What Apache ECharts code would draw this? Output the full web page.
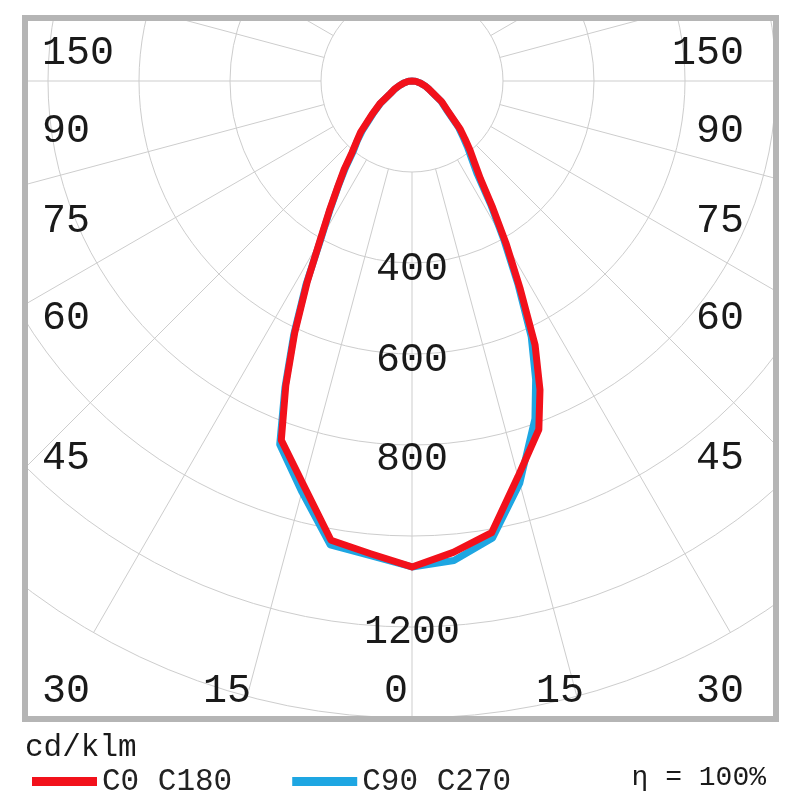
<!DOCTYPE html>
<html><head><meta charset="utf-8">
<script src="https://cdn.jsdelivr.net/npm/echarts@6/dist/echarts.min.js"></script>
<style>html,body{margin:0;padding:0;background:#fff}#c{width:800px;height:800px}</style>
</head><body><div id="c"></div>
<script>
// ---- data (cd/klm) ----
const gammaAngles = [0,5,10,15,20,22.5,25,27.5,30,32.5,35,37.5,40,42.5,45,50,55,60,65,70,75,80,85,90];
// C0-C180 plane (red): right half and left half
const c0Right   = [1068,1040,1008,900,815,735,640,515,415,330,262,225,198,172,150,103,80,53,40,30,20,12,6,0];
const c180Left  = [1068,1043,1025,920,840,725,610,500,404,338,285,245,205,180,160,115,85,55,42,30,20,12,6,0];
// C90-C270 plane (blue)
const c90Right  = [1068,1058,1020,915,790,710,620,505,405,322,250,215,190,165,145,100,78,52,40,30,20,12,6,0];
const c270Left  = [1068,1047,1035,935,850,730,615,505,400,335,283,240,200,178,155,112,83,54,41,30,20,12,6,0];
const seriesNames = ['C0 C180','C90 C270'];
const radiusTickLabels = [400,600,800,1200];
const angleLabelsLeft  = ['150','90','75','60','45','30'];
const angleLabelsRight = ['150','90','75','60','45','30'];
const angleLabelsBottom = ['15','0','15'];
const unitLabel = 'cd/klm';
const etaLabel = 'η = 100%';

function planeData(right, left){
  const pts = [];
  for (let i = gammaAngles.length-1; i >= 0; i--) pts.push([right[i], 360 - gammaAngles[i]]);
  for (let i = 0; i < gammaAngles.length; i++) pts.push([left[i], gammaAngles[i]]);
  return pts;
}

const CX = 412, CY = 81, R200 = 91, R1400 = 637;
const FONT = '"Liberation Mono", "DejaVu Sans Mono", monospace';
const chart = echarts.init(document.getElementById('c'), null, {renderer:'canvas'});

const gridColor = '#cdcdcd';
const option = {
  animation: false,
  backgroundColor: '#fff',
  polar: [
    {center:[CX,CY], radius:[R200,R1400]},
    {center:[CX,CY], radius:[0,R1400]}
  ],
  angleAxis: [
    {polarIndex:0, type:'value', min:0, max:360, interval:15, startAngle:-90, clockwise:true,
     axisLine:{show:false}, axisTick:{show:false}, axisLabel:{show:false},
     splitLine:{show:true, lineStyle:{color:gridColor, width:1}}},
    {polarIndex:1, type:'value', min:0, max:360, startAngle:-90, clockwise:true,
     axisLine:{show:false}, axisTick:{show:false}, axisLabel:{show:false}, splitLine:{show:false}}
  ],
  radiusAxis: [
    {polarIndex:0, type:'value', min:200, max:1400, interval:200,
     axisLine:{show:false}, axisTick:{show:false}, axisLabel:{show:false},
     splitLine:{show:true, lineStyle:{color:gridColor, width:1}}},
    {polarIndex:1, type:'value', min:0, max:1400,
     axisLine:{show:false}, axisTick:{show:false}, axisLabel:{show:false}, splitLine:{show:false}}
  ],
  legend: {
    z: 300, left: 27, top: 761, itemWidth: 65, itemHeight: 9, itemGap: 60, icon: 'rect',
    selectedMode: false,
    textStyle: {fontFamily: FONT, fontSize: 31, color:'#222'},
    data: [seriesNames[0], seriesNames[1]]
  },
  series: [
    {name: seriesNames[1], type:'line', coordinateSystem:'polar', polarIndex:1, symbol:'none', z:3,
     color:'#1ea6e2', lineStyle:{width:7, color:'#1ea6e2', join:'round', cap:'round'},
     data: planeData(c90Right, c270Left)},
    {name: seriesNames[0], type:'line', coordinateSystem:'polar', polarIndex:1, symbol:'none', z:4,
     color:'#f2111b', lineStyle:{width:7, color:'#f2111b', join:'round', cap:'round'},
     data: planeData(c0Right, c180Left)}
  ]
};
chart.setOption(option);

// graphic: masks, frame, labels
const g = [];
const mask = (x,y,w,h) => ({type:'rect', z:100, shape:{x,y,width:w,height:h}, style:{fill:'#fff'}, silent:true});
g.push(mask(0,0,800,18), mask(0,0,25,800), mask(776,0,24,800), mask(0,719,800,81));
g.push({type:'rect', z:101, shape:{x:25,y:18,width:751,height:701}, style:{fill:'none', stroke:'#b5b5b5', lineWidth:6}});
const txt = (t, x, y, size, align, va) => ({type:'text', z:102, style:{text:t, x, y, font: size+'px '+FONT, fill:'#1a1a1a',
  align:align||'left', verticalAlign:va||'middle', textAlign:align||'left', textVerticalAlign:va||'middle'}});
const leftYs = [53,131,221,318,458,691];
angleLabelsLeft.forEach((t,i)=> g.push(txt(t, 42, leftYs[i], 40, 'left')));
angleLabelsRight.forEach((t,i)=> g.push(txt(t, 744, leftYs[i], 40, 'right')));
const bottomXs = [227, 396, 560];
angleLabelsBottom.forEach((t,i)=> g.push(txt(t, bottomXs[i], 691, 40, 'center')));
const radiusLabelOffsets = [6, 6, 14, 5];
radiusTickLabels.forEach((v,i) => {
  const p = chart.convertToPixel({seriesIndex:1}, [v, 0]);
  if (p) g.push(txt(String(v), p[0], p[1] + radiusLabelOffsets[i], 40, 'center'));
});
g.push(txt(unitLabel, 25, 748, 31, 'left'));
g.push(txt(etaLabel, 766, 778, 28, 'right'));
chart.setOption({graphic: {elements: g}});
</script></body></html>
